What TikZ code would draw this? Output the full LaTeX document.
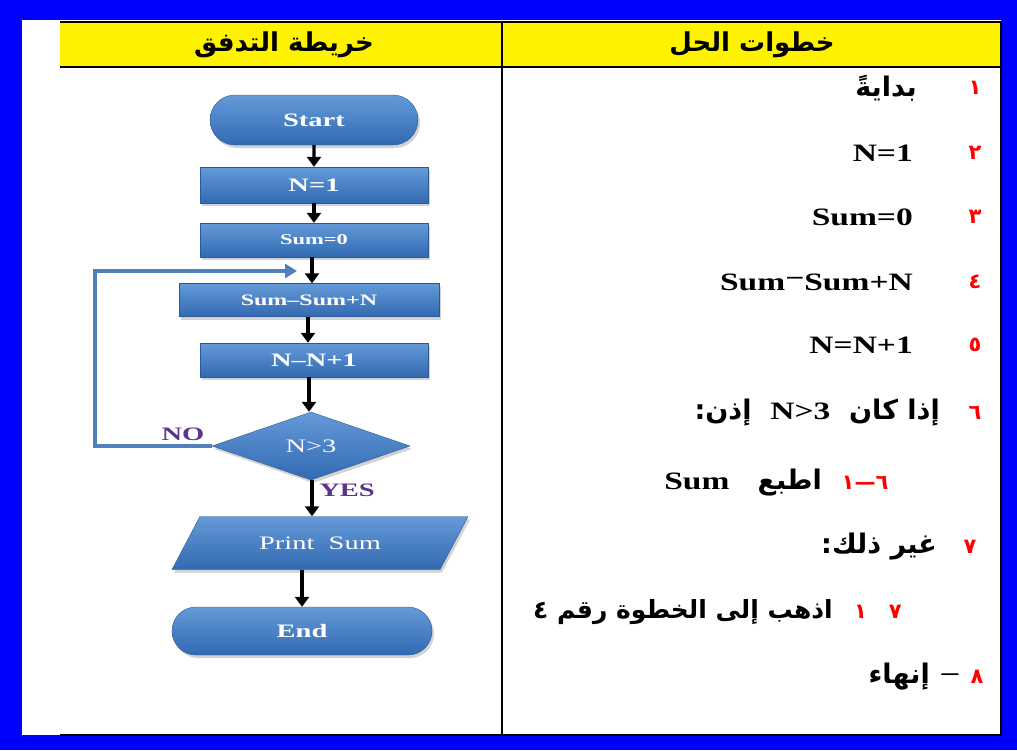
\documentclass[tikz,border=0pt]{standalone}
\usepackage{fontspec}
\setmainfont{Liberation Serif}
\newfontfamily\arabicfont[Script=Arabic]{DejaVu Sans}
\newfontfamily\latinfont[FakeStretch=1.34]{Liberation Serif}
\newfontfamily\chartfont[FakeStretch=1.5]{Liberation Serif}
\TeXXeTstate=1
\usetikzlibrary{arrows.meta,shapes.geometric,shapes.misc,shadows,positioning}
\definecolor{frameblue}{RGB}{0,0,255}
\definecolor{boxtop}{RGB}{100,154,216}
\definecolor{boxbottom}{RGB}{50,106,178}
\definecolor{boxline}{RGB}{45,88,150}
\definecolor{loopblue}{RGB}{79,129,189}
\definecolor{labelpurple}{RGB}{92,52,140}
\tikzset{box/.style={
            draw=boxline,
            top color=boxtop,
            bottom color=boxbottom,
            thin,
            inner sep=0pt,
            text=white,
            font=\chartfont\bfseries\fontsize{19}{21}\selectfont,
            drop shadow={opacity=0.35,shadow xshift=2pt,shadow yshift=-3pt}
        },
        terminal/.style={
            box,
            rounded rectangle
        },
        process/.style={
            box,
            rectangle
        },
        decision/.style={
            box,
            diamond,
            minimum width=198pt,
            minimum height=68pt,
            font=\chartfont\fontsize{19}{21}\selectfont
        },
        iobox/.style={
            box,
            trapezium,
            trapezium left angle=42,
            trapezium right angle=138,
            trapezium stretches=true,
            minimum width=296pt,
            minimum height=53pt,
            font=\chartfont\fontsize{19}{21}\selectfont
        },
        flow/.style={
            draw,
            line width=3.2pt,
            -{Triangle[length=10pt,width=14pt]}
        },
        looparrow/.style={
            draw=loopblue,
            line width=4pt,
            -{Triangle[length=12pt,width=14pt]}
        },
        answer/.style={
            text=labelpurple,
            font=\chartfont\bfseries\fontsize{19}{21}\selectfont
        },
        stepnum/.style={
            text=red,
            inner sep=0pt,
            font=\arabicfont\bfseries\fontsize{21}{25}\selectfont
        },
        steptext/.style={
            anchor=east,
            inner sep=0pt,
            font=\arabicfont\bfseries\fontsize{27}{32}\selectfont
        },
        steplatin/.style={
            anchor=east,
            inner sep=0pt,
            font=\latinfont\bfseries\fontsize{25}{30}\selectfont
        },
        headtext/.style={
            font=\arabicfont\bfseries\fontsize{26}{30}\selectfont
        }
    }
\begin{document}
\begin{tikzpicture}[x=1pt,y=-1pt]
        \useasboundingbox (0,0) rectangle (1017,750);
        % frame and table
        \fill[frameblue] (0,0) rectangle (1017,750);
        \fill[white] (22,20) rectangle (1001,735);
        \fill[yellow] (60,22) rectangle (1001,67);
        \draw[line width=2pt] (60,22) -- (1001,22);
        \draw[line width=2pt] (60,67) -- (1001,67);
        \draw[line width=2pt] (502,22) -- (502,735);
        \draw[line width=2pt] (1001,22) -- (1001,735);
        \draw[line width=2pt] (60,735) -- (1001,735);

        \node[headtext] (charthead) at (284,45) {\beginR خريطة التدفق\endR};
        \node[headtext] (stepshead) at (752,45) {\beginR خطوات الحل\endR};

        % flowchart
        \node[terminal,minimum width=208pt,minimum height=50pt] (start) at (314,120) {Start};
        \node[process,minimum width=228pt,minimum height=36pt] (n1) at (314,185) {N=1};
        \node[process,minimum width=228pt,minimum height=34pt,font=\chartfont\bfseries\fontsize{15}{17}\selectfont] (sum0) at (314,240) {Sum=0};
        \node[process,minimum width=260pt,minimum height=33pt,font=\chartfont\bfseries\fontsize{16}{18}\selectfont] (sumadd) at (309,300) {Sum–Sum+N};
        \node[process,minimum width=228pt,minimum height=34pt] (ninc) at (314,360) {N–N+1};
        \node[decision] (cond) at (311,446) {N>3};
        \node[iobox] (print) at (320,543) {Print\ \ Sum};
        \node[terminal,minimum width=260pt,minimum height=48pt] (stop) at (302,631) {End};

        \draw[flow] (start) -- (n1);
        \draw[flow] (n1) -- (sum0);
        \draw[flow] (sum0.south -| 312,0) -- (sumadd.north -| 312,0);
        \draw[flow] (sumadd.south -| 308,0) -- (ninc.north -| 308,0);
        \draw[flow] (ninc.south -| 309,0) -- (cond.north -| 309,0);
        \draw[flow] (cond.south -| 312,0) -- (print.north -| 312,0);
        \draw[flow] (print.south -| stop.north) -- (stop.north);

        \coordinate (corner) at (95,271);
        \coordinate (rejoin) at (297,271);
        \draw[looparrow] (cond.west) -| (corner) -- (rejoin);
        \node[answer] (no) at (183,434) {NO};
        \node[answer] (yes) at (347,490) {YES};

        % solution steps
        \node[stepnum] (num1) at (975,88) {١};
        \node[steptext] (step1) at (917,88) {\beginR بدايةً\endR};
        \node[stepnum] (num2) at (975,153) {٢};
        \node[steplatin] (step2) at (913,153) {N=1};
        \node[stepnum] (num3) at (975,217) {٣};
        \node[steplatin] (step3) at (913,217) {Sum=0};
        \node[stepnum] (num4) at (975,282) {٤};
        \node[steplatin] (step4) at (913,282) {Sum\raisebox{4pt}{−}Sum+N};
        \node[stepnum] (num5) at (975,345) {٥};
        \node[steplatin] (step5) at (913,345) {N=N+1};
        \node[stepnum] (num6) at (975,413) {٦};
        \node[steptext] (step6) at (940,413) {\beginR إذا كان \ {\latinfont\fontsize{25}{30}\selectfont\beginL N>3\endL}\ \ إذن:\endR};
        \node[stepnum] (num61) at (865,483) {\beginR ٦—١\endR};
        \node[steptext] (step61) at (822,483) {\beginR اطبع\ \ \ {\latinfont\fontsize{25}{30}\selectfont\beginL Sum\endL}\endR};
        \node[stepnum] (num7) at (970,547) {٧};
        \node[steptext] (step7) at (937,547) {\beginR غير ذلك:\endR};
        \node[stepnum] (num71) at (878,612) {\beginR ٧\hspace{22pt}١\endR};
        \node[steptext,font=\arabicfont\bfseries\fontsize{25}{30}\selectfont] (step71) at (833,612) {\beginR اذهب إلى الخطوة رقم ٤\endR};
        \node[stepnum] (num8) at (977,677) {٨};
        \node[inner sep=0pt,font=\latinfont\bfseries\fontsize{25}{30}\selectfont] (dash8) at (950,677) {–};
        \node[steptext] (step8) at (930,677) {\beginR إنهاء\endR};
    \end{tikzpicture}
\end{document}
